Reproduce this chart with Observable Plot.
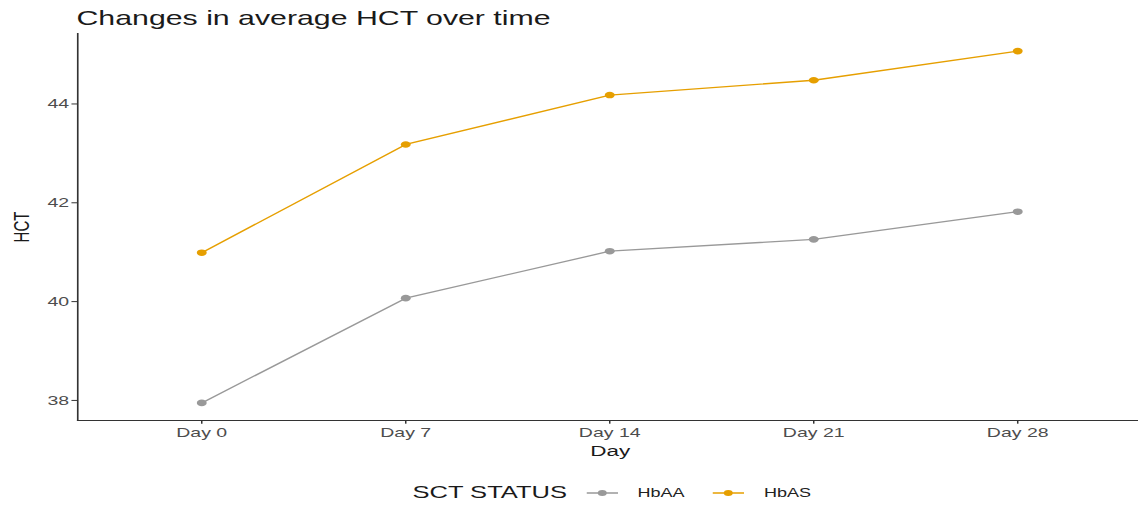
<!DOCTYPE html>
<html><head><meta charset="utf-8">
<script src="https://cdn.jsdelivr.net/npm/d3@7"></script>
<script src="https://cdn.jsdelivr.net/npm/@observablehq/plot@0.6"></script>
<style>
html,body{margin:0;padding:0;background:#fff;overflow:hidden;}
#wrap{width:758.67px;transform:scaleX(1.5);transform-origin:0 0;font-family:"Liberation Sans",Arial,sans-serif;}
#title{height:30px;box-sizing:border-box;padding-top:8px;padding-left:51px;font-size:20.2px;line-height:21px;color:#1a1a1a;white-space:nowrap;}
#legend{height:28px;margin-top:9px;display:flex;align-items:center;padding-left:275px;font-size:12px;color:#222;white-space:nowrap;}
#legend .ttl{font-size:17px;color:#1a1a1a;margin-right:13px;}
#legend svg{display:block;margin-right:13px;}
#legend .lab{margin-right:19px;}
g[aria-label="y-axis label"], g[aria-label="x-axis label"]{font-size:15px;fill:#1a1a1a;}
</style></head><body>
<div id="wrap"><div id="title">Changes in average HCT over time</div><div id="chart"></div><div id="legend"></div></div>
<script>
const days = ["Day 0","Day 7","Day 14","Day 21","Day 28"];
const groups = ["HbAA","HbAS"];
const hbaa = [37.95,40.07,41.02,41.26,41.82];
const hbas = [40.99,43.18,44.18,44.48,45.07];
const colors = ["#999999","#E69F00"];
const yTicks = [38,40,42,44];

const series = {HbAA: hbaa, HbAS: hbas};
const data = [];
groups.forEach(g => days.forEach((d,i) => data.push({day:d, group:g, hct:series[g][i]})));
const all = hbaa.concat(hbas);
const lo = d3.min(all), hi = d3.max(all), pad = (hi-lo)*0.05;
const W = 1138/1.5;

const chart = Plot.plot({
  width: W, height: 440, marginLeft: 51.33, marginRight: -2.67, marginTop: 3, marginBottom: 50,
  style: {fontFamily: "Liberation Sans, Arial, sans-serif", fontSize: "13px", color: "#4d4d4d", background:"#fff", overflow:"visible"},
  x: {type:"point", domain: days, padding: 0.6},
  y: {domain:[lo-pad, hi+pad]},
  color: {domain: groups, range: colors},
  marks: [
    Plot.frame({anchor:"left", stroke:"#333", strokeWidth:1.1}),
    Plot.frame({anchor:"bottom", stroke:"#333", strokeWidth:1.1}),
    Plot.axisY(yTicks, {tickSize:3.7, tickPadding:2, stroke:"#333", label:"HCT", labelAnchor:"center", labelOffset:43, labelArrow:"none"}),
    Plot.axisX({tickSize:3.7, tickPadding:4, stroke:"#333", label:"Day", labelAnchor:"center", labelOffset:36}),
    Plot.line(data, {x:"day", y:"hct", z:"group", stroke:"group", strokeWidth:1.3}),
    Plot.dot(data, {x:"day", y:"hct", fill:"group", r:3.3})
  ]
});
document.getElementById("chart").appendChild(chart);

const leg = d3.select("#legend");
leg.append("span").attr("class","ttl").text("SCT STATUS");
groups.forEach((g,i) => {
  const s = leg.append("svg").attr("width",21).attr("height",10);
  s.append("line").attr("x1",0).attr("x2",21).attr("y1",5).attr("y2",5).attr("stroke",colors[i]).attr("stroke-width",1.3);
  s.append("circle").attr("cx",10.5).attr("cy",5).attr("r",3).attr("fill",colors[i]);
  leg.append("span").attr("class","lab").text(g);
});
</script>
</body></html>
